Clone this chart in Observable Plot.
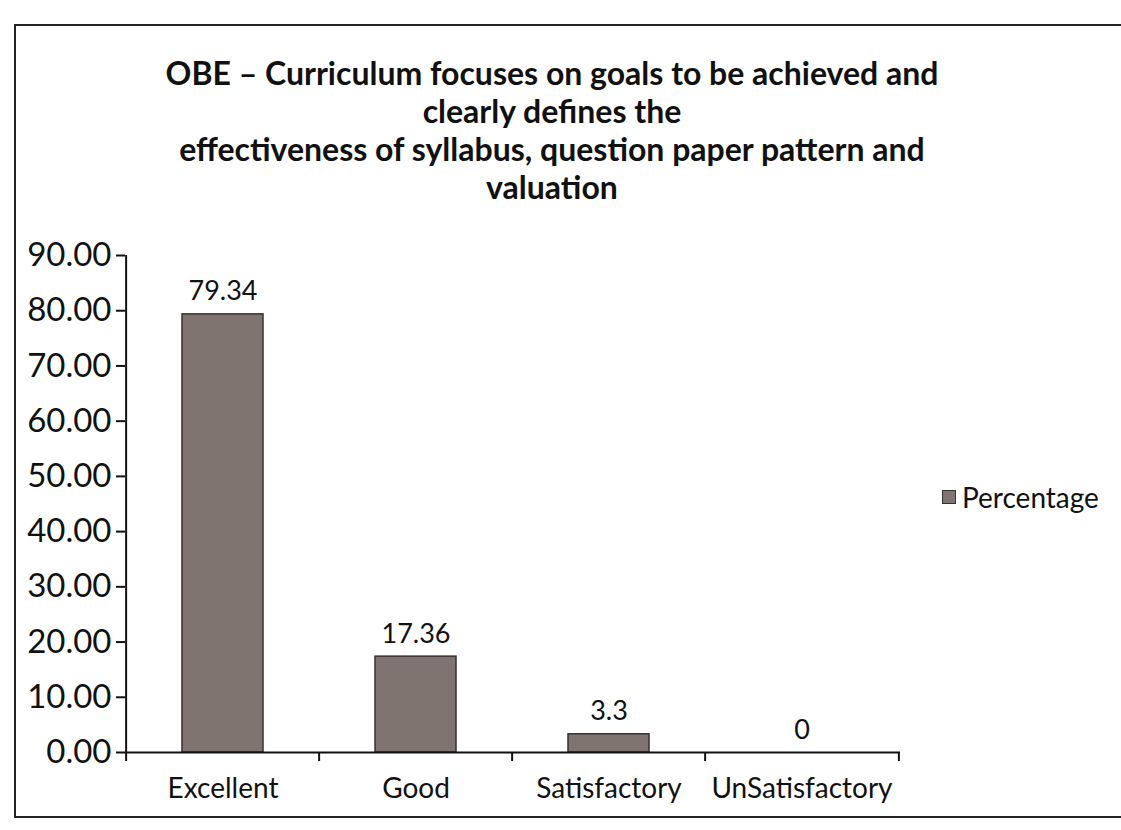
<!DOCTYPE html>
<html><head><meta charset="utf-8">
<script src="https://cdn.jsdelivr.net/npm/d3@7"></script>
<script src="https://cdn.jsdelivr.net/npm/@observablehq/plot@0.6"></script>
<style>
html,body{margin:0;padding:0;background:#fff;}
#wrap{position:relative;width:1121px;height:830px;background:#fff;font-family:Lato,"Open Sans",sans-serif;overflow:hidden;}
#frame{position:absolute;left:14px;top:24px;width:1140px;height:790px;border:2px solid #222;}
#title{position:absolute;left:0;top:54px;width:1104px;text-align:center;font-weight:bold;font-size:32px;line-height:38px;color:#111;}
#chart{position:absolute;left:0;top:220px;}
#legend{position:absolute;left:942px;top:480px;font-size:28px;color:#111;display:flex;align-items:center;}
#legend span.sw{display:inline-block;width:12px;height:12px;background:#7f746f;border:1px solid #3a3030;margin-right:6px;}
</style></head>
<body>
<div id="wrap">
  <div id="frame"></div>
  <div id="title">OBE – Curriculum focuses on goals to be achieved and<br>clearly defines the<br>effectiveness of syllabus, question paper pattern and<br>valuation</div>
  <div id="chart"></div>
  <div id="legend"><span class="sw"></span>Percentage</div>
</div>
<script>
const categories = ["Excellent", "Good", "Satisfactory", "UnSatisfactory"];
const percentages = [79.34, 17.36, 3.3, 0];
const valueLabels = ["79.34", "17.36", "3.3", "0"];
const yTicks = [0, 10, 20, 30, 40, 50, 60, 70, 80, 90];

const data = categories.map((c, i) => ({category: c, value: percentages[i], label: valueLabels[i]}));

const W = 1121, H = 602, mL = 125, mR = 221, mT = 35, mB = 70;
const step = (W - mL - mR) / categories.length;

const chart = Plot.plot({
  width: W, height: H,
  marginLeft: mL, marginRight: mR, marginTop: mT, marginBottom: mB,
  style: {fontFamily: "Lato, 'Open Sans', sans-serif", color: "#111", background: "transparent"},
  x: {domain: categories, paddingInner: 0.58, paddingOuter: 0.29, label: null},
  y: {domain: [0, 90], label: null},
  marks: [
    Plot.barY(data, {x: "category", y: "value", fill: "#7f746f", stroke: "#3a3030", strokeWidth: 1.5}),
    Plot.text(data, {x: "category", y: "value", text: "label", dy: -14, lineAnchor: "bottom", fontSize: 27, fill: "#111"}),
    Plot.ruleY([0], {stroke: "#111", strokeWidth: 2}),
    Plot.ruleX(categories, {x: d => d, y1: 0, y2: 0, dx: -step / 2, insetBottom: -9, stroke: "#111", strokeWidth: 2}),
    Plot.ruleX([categories[categories.length - 1]], {x: d => d, y1: 0, y2: 0, dx: step / 2, insetBottom: -9, stroke: "#111", strokeWidth: 2}),
    Plot.ruleX([0], {x: () => categories[0], dx: -step / 2, y1: 0, y2: 90, stroke: "#111", strokeWidth: 2}),
    Plot.axisY({ticks: yTicks, tickFormat: d3.format(".2f"), tickSize: 9, tickPadding: 5, fontSize: 33, stroke: "#111", strokeWidth: 2, label: null}),
    Plot.axisX({tickSize: 0, tickPadding: 26, fontSize: 28, fill: "#111", label: null})
  ]
});
document.getElementById("chart").appendChild(chart);
</script>
</body></html>
